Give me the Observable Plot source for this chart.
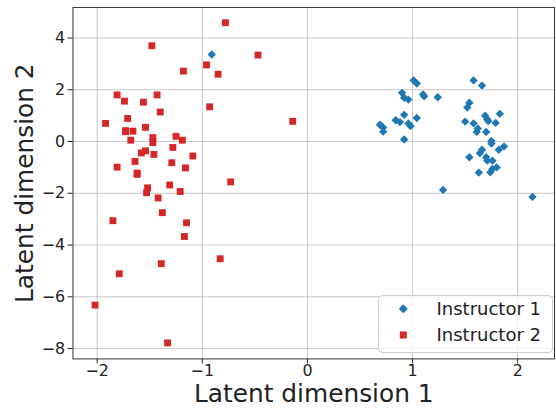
<!DOCTYPE html>
<html><head><meta charset="utf-8">
<script src="https://cdn.jsdelivr.net/npm/d3@7"></script>
<script src="https://cdn.jsdelivr.net/npm/@observablehq/plot@0.6"></script>
<style>
html,body{margin:0;padding:0;background:#fff;overflow:hidden}
#wrap{position:relative;width:556px;height:409px;overflow:hidden}
#legend{position:absolute;left:377px;top:294px}
</style></head><body><div id="wrap"></div>
<script>
const seriesNames = ["Instructor 1", "Instructor 2"];
const seriesColors = ["#1f77b4", "#d62728"];
const xLabel = "Latent dimension 1";
const yLabel = "Latent dimension 2";
const xTicks = [-2, -1, 0, 1, 2];
const yTicks = [-8, -6, -4, -2, 0, 2, 4];

const inst1X = [1.01,1.04,0.90,0.92,0.96,1.10,1.11,1.24,0.92,1.04,0.84,0.88,0.96,0.98,0.69,0.72,0.72,0.92,1.29,
  1.58,1.66,1.54,1.52,1.69,1.71,1.72,1.83,1.50,1.58,1.62,1.61,1.70,1.79,1.75,1.75,1.87,1.82,1.66,1.64,1.54,1.70,1.71,1.76,1.80,1.76,1.74,1.63,2.14,-0.91];
const inst1Y = [2.36,2.24,1.88,1.69,1.62,1.82,1.75,1.71,1.03,0.91,0.82,0.75,0.70,0.60,0.65,0.54,0.38,0.08,-1.87,
  2.36,2.16,1.50,1.31,1.00,0.86,0.79,1.07,0.77,0.70,0.50,0.37,0.37,0.72,0.02,-0.08,-0.19,-0.32,-0.32,-0.45,-0.61,-0.61,-0.74,-0.74,-1.00,-1.06,-1.19,-1.20,-2.14,3.36];

const inst2X = [-0.78,-1.48,-0.47,-0.96,-1.18,-0.85,-1.81,-1.43,-1.74,-1.56,-0.93,-1.40,-1.71,-1.92,-0.14,-1.54,-1.73,-1.73,-1.66,-1.47,-1.47,-1.25,-1.19,-1.68,-1.28,-1.54,-1.58,-1.46,-1.09,-1.64,-1.29,-1.81,-1.16,-1.62,-1.62,-0.73,-1.31,-1.52,-1.53,-1.21,-1.42,-1.38,-1.85,-1.15,-1.17,-0.83,-1.39,-1.79,-2.02,-1.33];
const inst2Y = [4.59,3.70,3.34,2.96,2.72,2.60,1.80,1.80,1.56,1.52,1.34,1.14,0.89,0.70,0.78,0.55,0.42,0.38,0.40,0.15,-0.04,0.20,0.05,0.05,-0.23,-0.36,-0.44,-0.50,-0.56,-0.77,-0.82,-0.99,-1.02,-1.22,-1.27,-1.56,-1.68,-1.79,-1.98,-1.93,-2.18,-2.75,-3.06,-3.14,-3.67,-4.53,-4.72,-5.11,-6.32,-7.78];

const d1 = inst1X.map((x, i) => ({x, y: inst1Y[i], s: seriesNames[0]}));
const d2 = inst2X.map((x, i) => ({x, y: inst2Y[i], s: seriesNames[1]}));
const fmt = d => d < 0 ? "\u2212" + Math.abs(d) : String(d);

const chart = Plot.plot({
  width: 560, height: 409,
  marginLeft: 73, marginRight: 2, marginTop: 7, marginBottom: 48,
  style: {fontFamily: "DejaVu Sans", color: "#222", background: "#fff"},
  x: {domain: [-2.23, 2.35]},
  y: {domain: [-8.40, 5.18]},
  marks: [
    Plot.gridX(xTicks, {stroke: "#b0b0b0", strokeOpacity: 0.7, strokeWidth: 1}),
    Plot.gridY(yTicks, {stroke: "#b0b0b0", strokeOpacity: 0.7, strokeWidth: 1}),
    Plot.dot(d1, {x: "x", y: "y", symbol: "diamond2", r: 3.8, fill: seriesColors[0], stroke: "none"}),
    Plot.dot(d2, {x: "x", y: "y", symbol: "square", r: 3.9, fill: seriesColors[1], stroke: "none"}),
    Plot.axisX(xTicks, {tickSize: 5, tickPadding: 1, fontSize: 16, tickFormat: fmt, label: null}),
    Plot.axisY(yTicks, {tickSize: 5, tickPadding: 3, fontSize: 16, tickFormat: fmt, label: null}),
    Plot.frame({stroke: "#333", strokeWidth: 1}),
    Plot.text([xLabel], {frameAnchor: "bottom", dy: 35, fontSize: 25, text: d => d, fill: "#222", textAnchor: "middle", lineAnchor: "middle"}),
    Plot.text([yLabel], {frameAnchor: "left", dx: -48.5, rotate: -90, fontSize: 25, text: d => d, fill: "#222", textAnchor: "middle", lineAnchor: "middle"})
  ]
});
const wrap = document.getElementById("wrap");
wrap.appendChild(chart);

// legend
const ns = "http://www.w3.org/2000/svg";
const lg = document.createElementNS(ns, "svg");
lg.setAttribute("id", "legend");
lg.setAttribute("width", 178); lg.setAttribute("height", 61);
lg.style.fontFamily = "DejaVu Sans";
let html = `<rect x="1.5" y="1.5" width="174" height="57" rx="4" fill="rgba(255,255,255,0.8)" stroke="#cccccc" stroke-width="1"/>`;
const cy = [14.7, 41];
html += `<path d="M26.3,${cy[0]-4.5}L30.8,${cy[0]}L26.3,${cy[0]+4.5}L21.8,${cy[0]}Z" fill="${seriesColors[0]}"/>`;
html += `<rect x="${26.3-3.5}" y="${cy[1]-3.5}" width="7" height="7" fill="${seriesColors[1]}"/>`;
seriesNames.forEach((n, i) => {
  html += `<text x="59.5" y="${cy[i]}" dy="0.36em" font-size="18" fill="#222">${n}</text>`;
});
lg.innerHTML = html;
wrap.appendChild(lg);
</script></body></html>
